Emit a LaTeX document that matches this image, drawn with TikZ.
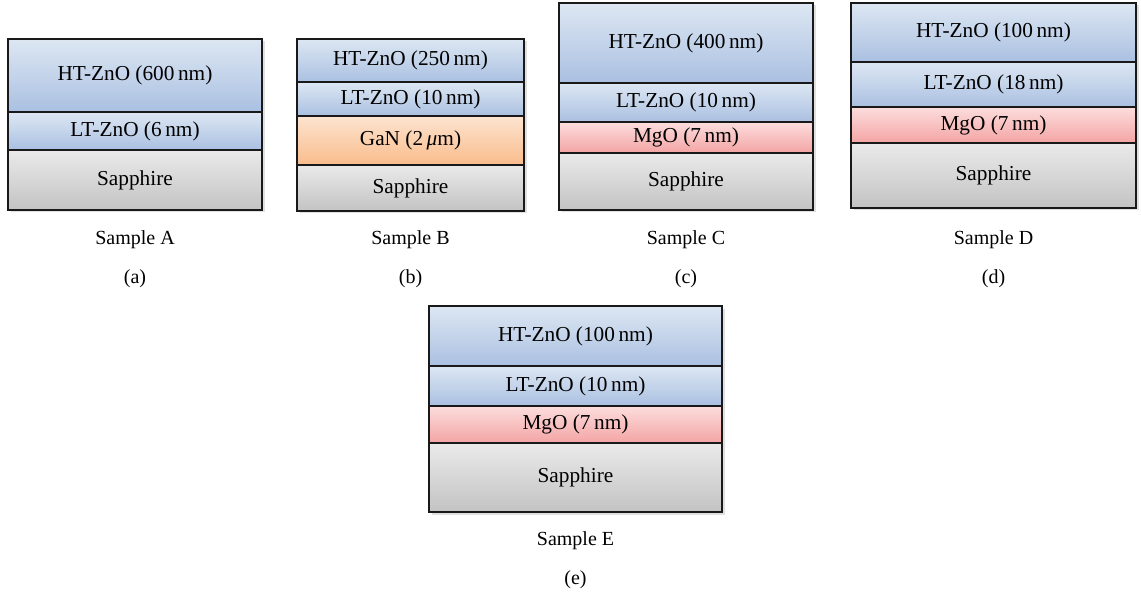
\documentclass[tikz,border=0pt]{standalone}
\usepackage{fontspec}
\setmainfont{Liberation Serif}
\usetikzlibrary{fit}

% layer fill colours (top / bottom of each gradient)
\definecolor{znoTop}{RGB}{221,231,243}
\definecolor{znoBot}{RGB}{170,192,225}
\definecolor{ganTop}{RGB}{253,228,208}
\definecolor{ganBot}{RGB}{249,188,140}
\definecolor{mgoTop}{RGB}{252,221,221}
\definecolor{mgoBot}{RGB}{244,164,164}
\definecolor{sapTop}{RGB}{234,234,234}
\definecolor{sapBot}{RGB}{195,195,195}

\tikzset{
  layer/.style={draw=black!90, line width=1.3pt, inner sep=0pt},
  zno/.style={layer, top color=znoTop, bottom color=znoBot},
  gan/.style={layer, top color=ganTop, bottom color=ganBot},
  mgo/.style={layer, top color=mgoTop, bottom color=mgoBot},
  sap/.style={layer, top color=sapTop, bottom color=sapBot},
  layertext/.style={inner sep=0pt, font=\fontsize{21.3}{24}\selectfont},
  stackshadow/.style={fill=black, opacity=0.12},
  caption/.style={inner sep=0pt, font=\fontsize{20}{24}\selectfont},
}

% \stratum{name}{style}{x1}{y1}{x2}{y2}{text}
\newcommand\stratum[7]{%
  \node[#2, fit={(#3,#4) (#5,#6)}] (#1) {};
  \node[layertext] (#1-t) at (#1.center) {#7};}
% \stackshade{x1}{y1}{x2}{y2}
\newcommand\stackshade[4]{%
  \fill[stackshadow] ({#1+2.5},{#2+2.5}) rectangle ({#3+2.5},{#4+2.5});}

\begin{document}
\begin{tikzpicture}[x=1pt,y=-1pt]
\useasboundingbox (0,0) rectangle (1141,596);

% Sample A
\stackshade{8}{39}{262}{210}
\stratum{a1}{zno}{8}{39}{262}{112}{HT-ZnO (600\,nm)}
\stratum{a2}{zno}{8}{112}{262}{150}{LT-ZnO (6\,nm)}
\stratum{a3}{sap}{8}{150}{262}{210}{Sapphire}
\node[caption] (sa) at (135,240) {Sample A};
\node[caption] (la) at (135,279) {(a)};

% Sample B
\stackshade{297}{39}{524}{211}
\stratum{b1}{zno}{297}{39}{524}{82}{HT-ZnO (250\,nm)}
\stratum{b2}{zno}{297}{82}{524}{116}{LT-ZnO (10\,nm)}
\stratum{b3}{gan}{297}{116}{524}{165}{GaN (2\,{\itshape μ}m)}
\stratum{b4}{sap}{297}{165}{524}{211}{Sapphire}
\node[caption] (sb) at (410.5,240) {Sample B};
\node[caption] (lb) at (410.5,279) {(b)};

% Sample C
\stackshade{559}{3}{813}{210}
\stratum{c1}{zno}{559}{3}{813}{83}{HT-ZnO (400\,nm)}
\stratum{c2}{zno}{559}{83}{813}{122}{LT-ZnO (10\,nm)}
\stratum{c3}{mgo}{559}{122}{813}{153}{MgO (7\,nm)}
\stratum{c4}{sap}{559}{153}{813}{210}{Sapphire}
\node[caption] (sc) at (686,240) {Sample C};
\node[caption] (lc) at (686,279) {(c)};

% Sample D
\stackshade{851}{3}{1136}{208}
\stratum{d1}{zno}{851}{3}{1136}{62}{HT-ZnO (100\,nm)}
\stratum{d2}{zno}{851}{62}{1136}{107}{LT-ZnO (18\,nm)}
\stratum{d3}{mgo}{851}{107}{1136}{143}{MgO (7\,nm)}
\stratum{d4}{sap}{851}{143}{1136}{208}{Sapphire}
\node[caption] (sd) at (993.5,240) {Sample D};
\node[caption] (ld) at (993.5,279) {(d)};

% Sample E
\stackshade{429}{306}{722}{512}
\stratum{e1}{zno}{429}{306}{722}{366}{HT-ZnO (100\,nm)}
\stratum{e2}{zno}{429}{366}{722}{406}{LT-ZnO (10\,nm)}
\stratum{e3}{mgo}{429}{406}{722}{443}{MgO (7\,nm)}
\stratum{e4}{sap}{429}{443}{722}{512}{Sapphire}
\node[caption] (se) at (575.5,541) {Sample E};
\node[caption] (le) at (575.5,580) {(e)};
\end{tikzpicture}
\end{document}
